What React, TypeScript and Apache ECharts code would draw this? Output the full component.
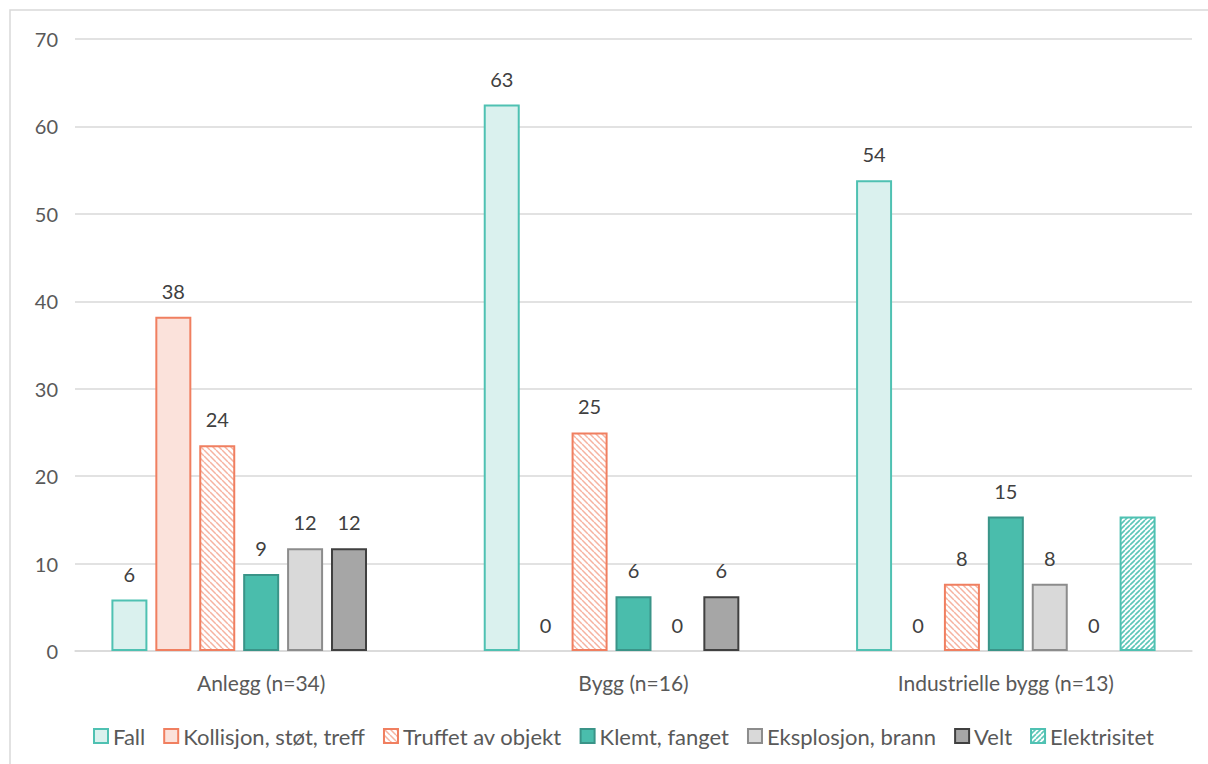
import React, { useEffect, useRef } from "react";
import * as echarts from "echarts";

const categories = ["Anlegg (n=34)", "Bygg (n=16)", "Industrielle bygg (n=13)"];
const seriesNames = [
  "Fall",
  "Kollisjon, støt, treff",
  "Truffet av objekt",
  "Klemt, fanget",
  "Eksplosjon, brann",
  "Velt",
  "Elektrisitet",
];
const fall = [5.88, 62.5, 53.85];
const kollisjon = [38.24, 0, 0];
const truffet = [23.53, 25, 7.69];
const klemt = [8.82, 6.25, 15.38];
const eksplosjon = [11.76, 0, 7.69];
const velt = [11.76, 6.25, 0];
const elektrisitet = [null, null, 15.38];
const yTicks = [0, 10, 20, 30, 40, 50, 60, 70];

const FONT = "Lato, 'Open Sans', sans-serif";

function makeHatch(color: string, down: boolean, size: number, lw: number) {
  const c = document.createElement("canvas");
  c.width = size;
  c.height = size;
  const ctx = c.getContext("2d")!;
  ctx.fillStyle = "#ffffff";
  ctx.fillRect(0, 0, size, size);
  ctx.strokeStyle = color;
  ctx.lineWidth = lw;
  ctx.beginPath();
  if (down) {
    for (let k = -1; k <= 1; k++) {
      ctx.moveTo(k * size, 0);
      ctx.lineTo(k * size + size, size);
    }
  } else {
    for (let k = -1; k <= 1; k++) {
      ctx.moveTo(k * size, size);
      ctx.lineTo(k * size + size, 0);
    }
  }
  ctx.stroke();
  return c;
}

export default function App() {
  const ref = useRef<HTMLDivElement>(null);
  useEffect(() => {
    if (!ref.current) return;
    const chart = echarts.init(ref.current, undefined, { renderer: "svg" });
    const orangeHatch = makeHatch("#F6B3A0", true, 6, 1.5);
    const tealHatch = makeHatch("#5CC6B8", false, 5, 1.6);
    const styles = [
      { color: "#DAF1EE", borderColor: "#4FC1B2" },
      { color: "#FBE2DB", borderColor: "#F07F60" },
      { color: { image: orangeHatch, repeat: "repeat" }, borderColor: "#F07F60" },
      { color: "#4ABDAC", borderColor: "#3A9488" },
      { color: "#D9D9D9", borderColor: "#8C8C8C" },
      { color: "#A6A6A6", borderColor: "#404040" },
      { color: { image: tealHatch, repeat: "repeat" }, borderColor: "#4FC1B2" },
    ];
    const values = [fall, kollisjon, truffet, klemt, eksplosjon, velt, elektrisitet];
    const series = seriesNames.map((name, i) => ({
      name,
      type: "bar",
      data: values[i].map((v) =>
        v === 0 ? { value: 0, itemStyle: { borderWidth: 0, opacity: 0 } } : v
      ),
      barWidth: 36,
      barGap: "22%",
      itemStyle: { ...styles[i], borderWidth: 2 },
      label: {
        show: i !== 6,
        position: "top",
        distance: 16,
        fontFamily: FONT,
        fontSize: 20,
        color: "#404040",
        opacity: 1,
        formatter: (p: any) => String(Math.round(p.value)),
      },
    }));
    chart.setOption({
      animation: false,
      graphic: [
        {
          type: "rect",
          z: -10,
          shape: { x: 10, y: 10, width: 1400, height: 900 },
          style: { fill: "none", stroke: "#D9D9D9", lineWidth: 1.5 },
        },
      ],
      grid: { left: 75, right: 16, top: 39, bottom: 113 },
      legend: {
        data: seriesNames,
        top: 720,
        left: 88,
        icon: "rect",
        itemWidth: 14,
        itemHeight: 14,
        itemGap: 18,
        textStyle: { fontFamily: FONT, fontSize: 22, color: "#595959" },
      },
      xAxis: {
        type: "category",
        data: categories,
        axisLine: { lineStyle: { color: "#D9D9D9", width: 1.5 } },
        axisTick: { show: false },
        axisLabel: { fontFamily: FONT, fontSize: 21, color: "#595959", margin: 21 },
      },
      yAxis: {
        type: "value",
        min: yTicks[0],
        max: yTicks[yTicks.length - 1],
        interval: 10,
        axisLine: { show: false },
        axisTick: { show: false },
        axisLabel: { fontFamily: FONT, fontSize: 20, color: "#595959", margin: 17 },
        splitLine: { lineStyle: { color: "#D9D9D9", width: 1.5 } },
      },
      series,
    });
    return () => chart.dispose();
  }, []);
  return (
    <div
      ref={ref}
      style={{ position: "absolute", left: 0, top: 0, width: 1208, height: 764, background: "#fff" }}
    />
  );
}
